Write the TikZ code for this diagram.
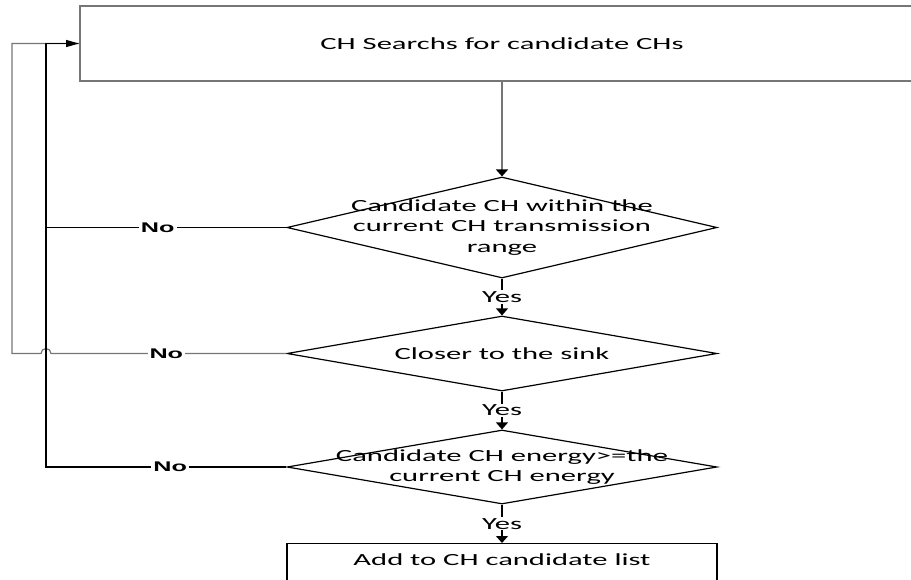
\documentclass[tikz,border=0pt]{standalone}
\usepackage{fontspec}
\setmainfont{Carlito}
\newfontfamily\nofont{Liberation Sans}
\usetikzlibrary{shapes.geometric,arrows.meta,calc}
\newcommand{\sx}[1]{\scalebox{1.8}[1]{#1}}
\definecolor{boxgray}{RGB}{118,118,118}
\begin{document}
\begin{tikzpicture}[x=1pt,y=-1pt,
  txt/.style={font=\fontsize{17}{20.5}\selectfont, align=center, inner sep=0pt, text=black},
  dec/.style={diamond, draw=black, line width=1.2pt, inner sep=0pt, minimum width=430pt},
  conn/.style={draw=black, line width=1.2pt},
  vtip/.style={-{Triangle[length=7pt,width=12pt,color=black]}},
  htip/.style={-{Triangle[length=13pt,width=7pt,color=black]}},
  yes/.style={fill=white, font=\fontsize{17}{20.5}\selectfont, inner sep=1pt, text=black},
  no/.style={fill=white, font=\nofont\bfseries\fontsize{14}{16}\selectfont, inner sep=2pt, text=black}
]
\clip (0,0) rectangle (911,579);
\useasboundingbox (0,0) rectangle (911,579);

\node[draw=boxgray, line width=2pt, minimum width=844pt, minimum height=75pt, txt] (top) at (502,43.5) {\sx{CH Searchs for candidate CHs}};

\node[dec, aspect=4.257, minimum height=101pt] (d1) at (502,227.5) {};
\node[txt] (t1) at (d1.center) {\sx{Candidate CH within the}\\\sx{current CH transmission}\\\sx{range}};

\node[dec, aspect=5.72, minimum height=75pt] (d2) at (502,353.5) {};
\node[txt] (t2) at (d2.center) {\sx{Closer to the sink}};

\node[dec, aspect=5.8, minimum height=74pt] (d3) at (502,467) {};
\node[txt] (t3) at (d3.center) {\sx{Candidate CH energy>=the}\\\sx{current CH energy}};

\node[draw=black, line width=1.2pt, minimum width=430pt, minimum height=44pt, anchor=north, inner sep=0pt] (add) at (502,543) {};
\node[txt] (t4) at ([yshift=-17pt]add.north) {\sx{Add to CH candidate list}};

\coordinate (in) at (46,43.5);
\coordinate (out) at (12,43.5);

\draw[draw=boxgray, line width=2pt, vtip] (top) -- (d1);
\draw[conn, vtip] (d1) -- node[yes]{\sx{Yes}} (d2);
\draw[conn, vtip] (d2) -- node[yes]{\sx{Yes}} (d3);
\draw[conn, vtip] (d3) -- node[yes]{\sx{Yes}} (add);

\draw[conn, draw=boxgray] (d2.west) -- node[no,pos=0.51]{\sx{No}} ($(d2.west -| in)+(5,0)$) arc[start angle=0, end angle=-180, radius=5] -- (d2.west -| out) -- (out) -- (top.west);
\draw[conn] (d1.west) -- node[no,pos=0.535]{\sx{No}} (d1.west -| in);
\draw[conn, htip] (d3.west) -- node[no,pos=0.483]{\sx{No}} (d3.west -| in) -- (in) -- (top.west);
\end{tikzpicture}
\end{document}
